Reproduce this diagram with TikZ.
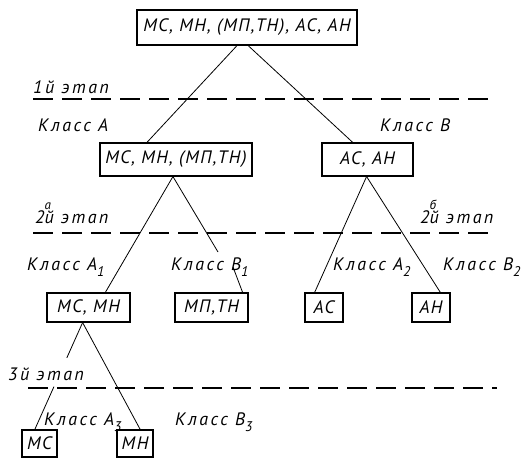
\documentclass[tikz,border=0pt]{standalone}
\usepackage{fontspec}
\newfontfamily\boxfamily{PT Sans}[LetterSpace=8]
\newfontfamily\lblfamily{PT Sans}[LetterSpace=14]
\usetikzlibrary{calc}
% italic sans for box contents and for labels
\newcommand\boxfont{\boxfamily\itshape\fontsize{18}{20}\selectfont}
\newcommand\lblfont{\lblfamily\itshape\fontsize{18}{20}\selectfont}
% lowered index after a class letter
\newcommand\sbidx[1]{\raisebox{-0.7ex}{\fontsize{14}{14}\selectfont #1}}
% small letter set above the stage suffix
\newcommand\spidx[1]{\makebox[0pt][l]{\raisebox{1.5ex}{\fontsize{13}{13}\selectfont #1}}}
\begin{document}
\begin{tikzpicture}[x=1pt,y=-1pt,
  box/.style={draw, line width=1.1pt, inner sep=0pt, font=\boxfont},
  edge/.style={line width=0.8pt},
  stageline/.style={dash pattern=on 20pt off 9pt, line width=1.2pt},
  lbl/.style={anchor=base west, inner sep=0pt, font=\lblfont}]
\useasboundingbox (0,0) rectangle (525,460);

% boxes of the classification tree
\node[box, minimum width=220pt, minimum height=35pt] (top) at (247,27.5) {МС, МН, (МП,ТН), АС, АН};
\node[box, minimum width=152pt, minimum height=33pt] (ka) at (176,159.5) {МС, МН, (МП,ТН)};
\node[box, minimum width=91pt, minimum height=33pt] (kb) at (367.5,159.5) {АС, АН};
\node[box, minimum width=83pt, minimum height=29pt] (ka1) at (88.5,307.5) {МС, МН};
\node[box, minimum width=73pt, minimum height=29pt] (kb1) at (211.5,307.5) {МП,ТН};
\node[box, minimum width=38pt, minimum height=29pt] (ka2) at (324,307.5) {АС};
\node[box, minimum width=38pt, minimum height=29pt] (kb2) at (431,307.5) {АН};
\node[box, minimum width=35pt, minimum height=27pt] (ka3) at (39.5,443.5) {МС};
\node[box, minimum width=36pt, minimum height=27pt] (kb3) at (135,443.5) {МН};

% stage separators
\draw[stageline] (33,99) -- (493,99);
\draw[stageline] (33,233) -- (493,233);
\draw[stageline] (28,388) -- (497,388);

% stage names
\node[lbl] (st1) at (33,93) {1й этап};
\node[lbl] (st2a) at (35,223) {2\spidx{а}й этап};
\node[lbl] (st2b) at (420,223) {2\spidx{б}й этап};
\node[lbl] (st3) at (8,380) {3й этап};

% class names
\node[lbl] (cA) at (38,131) {Класс А};
\node[lbl] (cB) at (380,131) {Класс В};
\node[lbl] (cA1) at (27,270) {Класс А\sbidx{1}};
\node[lbl] (cB1) at (171,270) {Класс В\sbidx{1}};
\node[lbl] (cA2) at (333,270) {Класс А\sbidx{2}};
\node[lbl] (cB2) at (443,270) {Класс В\sbidx{2}};
\node[lbl] (cA3) at (44,425) {Класс А\sbidx{3}};
\node[lbl] (cB3) at (175,425) {Класс В\sbidx{3}};

% connectors
\draw[edge] ($(top.south west)!0.455!(top.south east)$) -- ($(ka.north west)!0.31!(ka.north east)$);
\draw[edge] ($(top.south west)!0.505!(top.south east)$) -- ($(kb.north west)!0.34!(kb.north east)$);

% class A splits; the line to the second box breaks around its label
\coordinate (aBot) at ($(ka.south west)!0.48!(ka.south east)$);
\coordinate (b1Top) at ($(kb1.north west)!0.92!(kb1.north east)$);
\coordinate (b1GapIn) at (218,252);
\coordinate (b1GapOut) at (233,267);
\draw[edge] (aBot) -- ($(ka1.north west)!0.70!(ka1.north east)$);
\draw[edge] (aBot) -- (b1GapIn);
\draw[edge] (b1GapOut) -- (b1Top);

% class B splits
\coordinate (bBot) at ($(kb.south west)!0.49!(kb.south east)$);
\draw[edge] (bBot) -- ($(ka2.north west)!0.26!(ka2.north east)$);
\draw[edge] (bBot) -- ($(kb2.north west)!0.74!(kb2.north east)$);

% third stage; the left line breaks around the stage name
\coordinate (a1Bot) at ($(ka1.south west)!0.43!(ka1.south east)$);
\coordinate (a3Top) at ($(ka3.north west)!0.37!(ka3.north east)$);
\draw[edge] (a1Bot) -- ($(a1Bot)!0.33!(a3Top)$);
\draw[edge] ($(a1Bot)!0.60!(a3Top)$) -- (a3Top);
\draw[edge] (a1Bot) -- ($(kb3.north west)!0.64!(kb3.north east)$);
\end{tikzpicture}
\end{document}
